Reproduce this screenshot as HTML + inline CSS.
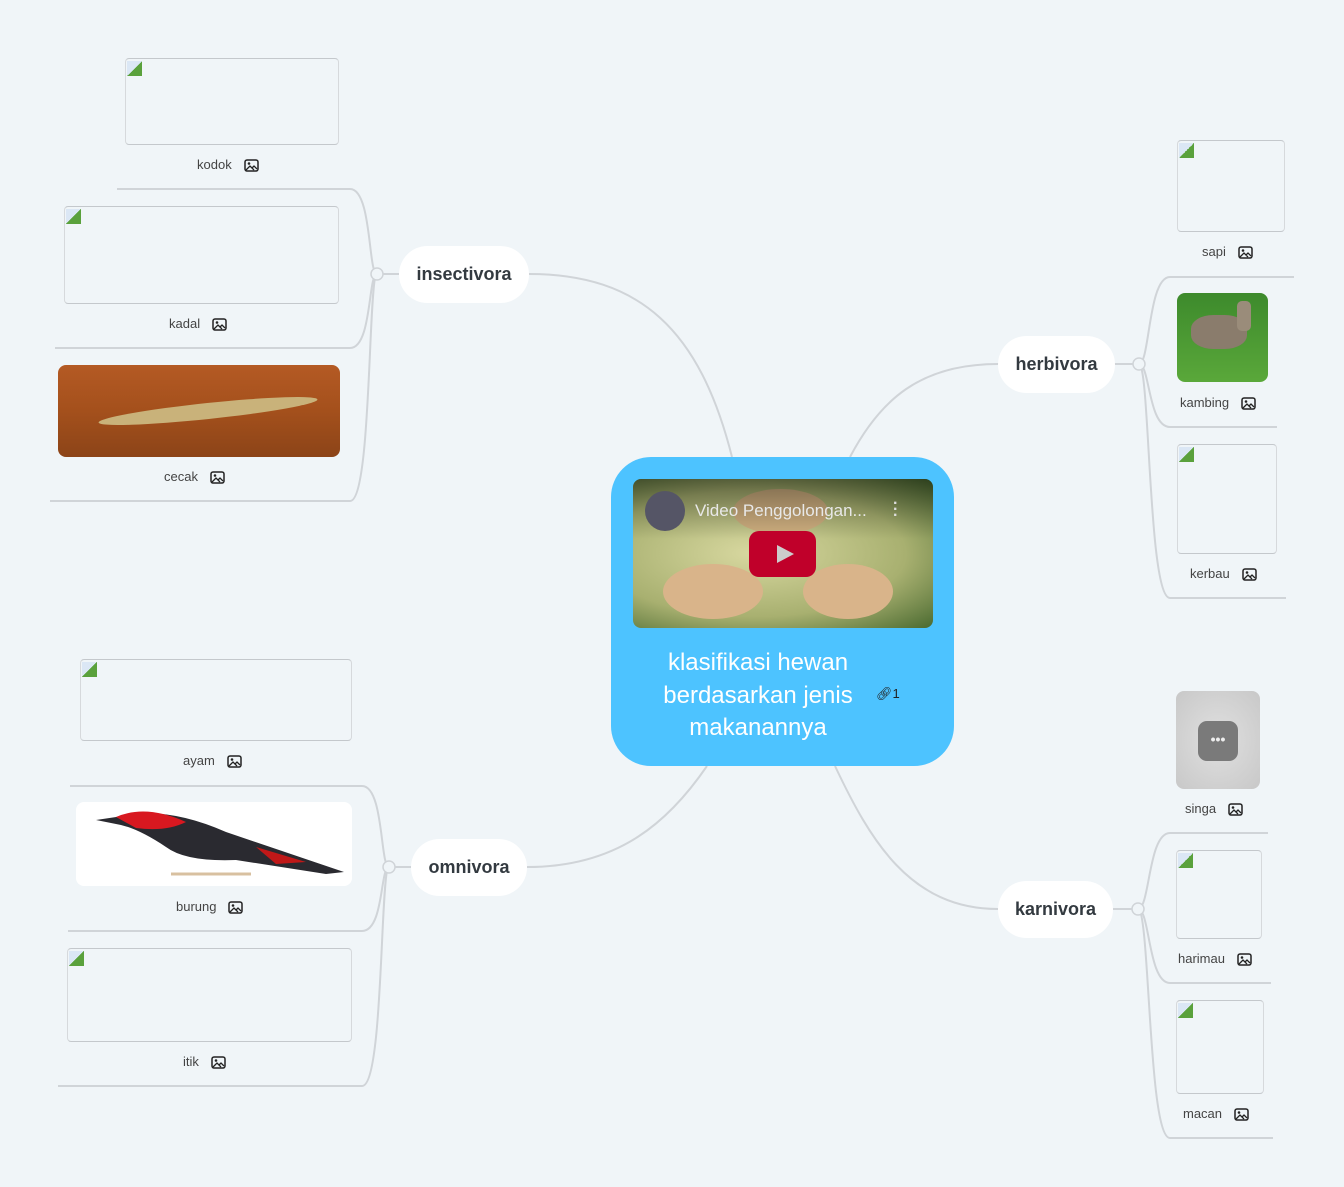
<!DOCTYPE html>
<html><head><meta charset="utf-8"><style>
body{margin:0;width:1344px;height:1187px;background:#f0f5f8;position:relative;overflow:hidden;font-family:"Liberation Sans",sans-serif}
.a{position:absolute}
.node{position:absolute;background:#fff;border-radius:29px;height:57px;line-height:57px;text-align:center;font-weight:bold;font-size:18px;color:#333a40}
.box{position:absolute;border-top:1px solid #c4c8cc;border-bottom:1px solid #c4c8cc;border-left:1px solid #d6d9dc;border-right:1px solid #d6d9dc;border-radius:4px;box-sizing:border-box}
.box:before{content:"";position:absolute;left:1px;top:2px;width:15px;height:15px;background:linear-gradient(135deg,#dbe7f5 50%,#5aa13c 50%)}
.lab{position:absolute;font-size:13px;color:#444;white-space:nowrap}
.lab svg{vertical-align:-3px;margin-left:12px}
</style></head><body>
<svg class="a" style="left:0;top:0" width="1344" height="1187">
<g fill="none" stroke="#d0d4d8" stroke-width="2">
<path d="M529 274 C640 274 700 330 732 457"/>
<path d="M998 364 C920 364 880 400 850 457"/>
<path d="M527 867 C620 867 670 820 707 766"/>
<path d="M998 909 C910 909 870 840 835 766"/>
<path d="M377 274 H399"/><path d="M1139 364 H1117 M998 364 H1117"/>
<path d="M389 867 H411"/><path d="M1138 909 H1113"/>
<path d="M117 189 H350 C372 189 368 274 377 274"/>
<path d="M55 348 H350 C372 348 368 274 377 274"/>
<path d="M50 501 H350 C372 501 368 274 377 274"/>
<path d="M1294 277 H1170 C1148 277 1150 364 1139 364"/>
<path d="M1277 427 H1170 C1148 427 1150 364 1139 364"/>
<path d="M1286 598 H1170 C1148 598 1150 364 1139 364"/>
<path d="M70 786 H362 C384 786 380 867 389 867"/>
<path d="M68 931 H362 C384 931 380 867 389 867"/>
<path d="M58 1086 H362 C384 1086 380 867 389 867"/>
<path d="M1268 833 H1170 C1148 833 1150 909 1138 909"/>
<path d="M1271 983 H1170 C1148 983 1150 909 1138 909"/>
<path d="M1273 1138 H1170 C1148 1138 1150 909 1138 909"/>
</g>
<g fill="#f0f5f8" stroke="#d0d4d8" stroke-width="1.5">
<circle cx="377" cy="274" r="6"/><circle cx="1139" cy="364" r="6"/><circle cx="389" cy="867" r="6"/><circle cx="1138" cy="909" r="6"/>
</g>
</svg>

<div class="node" style="left:399px;top:246px;width:130px">insectivora</div>
<div class="node" style="left:998px;top:336px;width:117px">herbivora</div>
<div class="node" style="left:411px;top:839px;width:116px">omnivora</div>
<div class="node" style="left:998px;top:881px;width:115px">karnivora</div>

<!-- center -->
<div class="a" style="left:611px;top:457px;width:343px;height:309px;background:#4dc3ff;border-radius:40px"></div>
<div class="a" style="left:633px;top:479px;width:300px;height:149px;border-radius:8px;overflow:hidden;background:radial-gradient(ellipse at 40% 50%,#d8d8a0,#a8b070 60%,#4a6a30)">
<div class="a" style="left:30px;top:85px;width:100px;height:55px;border-radius:50%;background:#d9b48a"></div>
<div class="a" style="left:170px;top:85px;width:90px;height:55px;border-radius:50%;background:#d9b48a"></div>
<div class="a" style="left:100px;top:10px;width:95px;height:45px;border-radius:50%;background:#d0b080"></div>
<div class="a" style="left:0;top:0;width:300px;height:60px;background:linear-gradient(#0006,#0000)"></div>
<div class="a" style="left:12px;top:12px;width:40px;height:40px;border-radius:50%;background:#556"></div>
<div class="a" style="left:62px;top:22px;color:#e8e8e8;font-size:17px">Video Penggolongan...</div>
<div class="a" style="left:260px;top:22px;color:#ddd;font-size:16px;font-weight:bold;line-height:6px">·<br>·<br>·</div>
<div class="a" style="left:116px;top:52px;width:67px;height:46px;border-radius:10px;background:#c0002a"></div>
<div class="a" style="left:144px;top:66px;width:0;height:0;border-left:17px solid #ccc;border-top:9px solid transparent;border-bottom:9px solid transparent"></div>
</div>
<div class="a" style="left:640px;top:647px;width:236px;text-align:center;color:#fff;font-size:24px;line-height:32.5px">klasifikasi hewan berdasarkan jenis makanannya</div>
<div class="a" style="left:876px;top:686px;font-size:13px;color:#222">🔗︎1</div>

<!-- insectivora leaves -->
<div class="box" style="left:125px;top:58px;width:214px;height:87px"></div>
<div class="lab" style="left:197px;top:157px">kodok<svg width="15" height="13"><rect x="1" y="1" width="13" height="11" rx="2" fill="none" stroke="#222" stroke-width="1.5"/><path d="M2 11 L6 7 L10 11 M8 9 L10 7 L13 10" fill="none" stroke="#222" stroke-width="1.3"/><circle cx="5" cy="4.5" r="1.3" fill="#222"/></svg></div>
<div class="box" style="left:64px;top:206px;width:275px;height:98px"></div>
<div class="lab" style="left:169px;top:316px">kadal<svg width="15" height="13"><rect x="1" y="1" width="13" height="11" rx="2" fill="none" stroke="#222" stroke-width="1.5"/><path d="M2 11 L6 7 L10 11 M8 9 L10 7 L13 10" fill="none" stroke="#222" stroke-width="1.3"/><circle cx="5" cy="4.5" r="1.3" fill="#222"/></svg></div>
<div class="a" style="left:58px;top:365px;width:282px;height:92px;border-radius:8px;background:linear-gradient(#b45a24,#a4501c 50%,#8c4418);overflow:hidden"><div class="a" style="left:40px;top:38px;width:220px;height:16px;border-radius:50%;background:#c9b27a;transform:rotate(-6deg)"></div></div>
<div class="lab" style="left:164px;top:469px">cecak<svg width="15" height="13"><rect x="1" y="1" width="13" height="11" rx="2" fill="none" stroke="#222" stroke-width="1.5"/><path d="M2 11 L6 7 L10 11 M8 9 L10 7 L13 10" fill="none" stroke="#222" stroke-width="1.3"/><circle cx="5" cy="4.5" r="1.3" fill="#222"/></svg></div>

<!-- herbivora leaves -->
<div class="box" style="left:1177px;top:140px;width:108px;height:92px"></div>
<div class="lab" style="left:1202px;top:244px">sapi<svg width="15" height="13"><rect x="1" y="1" width="13" height="11" rx="2" fill="none" stroke="#222" stroke-width="1.5"/><path d="M2 11 L6 7 L10 11 M8 9 L10 7 L13 10" fill="none" stroke="#222" stroke-width="1.3"/><circle cx="5" cy="4.5" r="1.3" fill="#222"/></svg></div>
<div class="a" style="left:1177px;top:293px;width:91px;height:89px;border-radius:8px;background:linear-gradient(#3d8a2c,#5aa83a);overflow:hidden"><div class="a" style="left:14px;top:22px;width:56px;height:34px;border-radius:40%;background:#8a7c6c"></div><div class="a" style="left:60px;top:8px;width:14px;height:30px;background:#9a8c7a;border-radius:5px"></div></div>
<div class="lab" style="left:1180px;top:395px">kambing<svg width="15" height="13"><rect x="1" y="1" width="13" height="11" rx="2" fill="none" stroke="#222" stroke-width="1.5"/><path d="M2 11 L6 7 L10 11 M8 9 L10 7 L13 10" fill="none" stroke="#222" stroke-width="1.3"/><circle cx="5" cy="4.5" r="1.3" fill="#222"/></svg></div>
<div class="box" style="left:1177px;top:444px;width:100px;height:110px"></div>
<div class="lab" style="left:1190px;top:566px">kerbau<svg width="15" height="13"><rect x="1" y="1" width="13" height="11" rx="2" fill="none" stroke="#222" stroke-width="1.5"/><path d="M2 11 L6 7 L10 11 M8 9 L10 7 L13 10" fill="none" stroke="#222" stroke-width="1.3"/><circle cx="5" cy="4.5" r="1.3" fill="#222"/></svg></div>

<!-- omnivora leaves -->
<div class="box" style="left:80px;top:659px;width:272px;height:82px"></div>
<div class="lab" style="left:183px;top:753px">ayam<svg width="15" height="13"><rect x="1" y="1" width="13" height="11" rx="2" fill="none" stroke="#222" stroke-width="1.5"/><path d="M2 11 L6 7 L10 11 M8 9 L10 7 L13 10" fill="none" stroke="#222" stroke-width="1.3"/><circle cx="5" cy="4.5" r="1.3" fill="#222"/></svg></div>
<div class="a" style="left:76px;top:802px;width:276px;height:84px;border-radius:8px;background:#fff;overflow:hidden">
<svg width="276" height="84"><path d="M20 18 L60 12 Q100 8 150 30 L268 70 L250 72 L160 58 Q110 60 90 45 Q60 25 40 22 Z" fill="#2a2a30"/><path d="M40 15 Q70 2 110 20 Q90 30 60 26 Z" fill="#d81820"/><path d="M180 45 L230 60 L200 62 Z" fill="#c01818"/><path d="M95 72 H175" stroke="#d8c0a0" stroke-width="3"/></svg></div>
<div class="lab" style="left:176px;top:899px">burung<svg width="15" height="13"><rect x="1" y="1" width="13" height="11" rx="2" fill="none" stroke="#222" stroke-width="1.5"/><path d="M2 11 L6 7 L10 11 M8 9 L10 7 L13 10" fill="none" stroke="#222" stroke-width="1.3"/><circle cx="5" cy="4.5" r="1.3" fill="#222"/></svg></div>
<div class="box" style="left:67px;top:948px;width:285px;height:94px"></div>
<div class="lab" style="left:183px;top:1054px">itik<svg width="15" height="13"><rect x="1" y="1" width="13" height="11" rx="2" fill="none" stroke="#222" stroke-width="1.5"/><path d="M2 11 L6 7 L10 11 M8 9 L10 7 L13 10" fill="none" stroke="#222" stroke-width="1.3"/><circle cx="5" cy="4.5" r="1.3" fill="#222"/></svg></div>

<!-- karnivora leaves -->
<div class="a" style="left:1176px;top:691px;width:84px;height:98px;border-radius:8px;background:radial-gradient(#e0e0e0,#c8c8c8)"><div class="a" style="left:22px;top:30px;width:40px;height:40px;border-radius:9px;background:#7a7a7a;color:#eee;text-align:center;line-height:36px;font-weight:bold;font-size:14px">•••</div></div>
<div class="lab" style="left:1185px;top:801px">singa<svg width="15" height="13"><rect x="1" y="1" width="13" height="11" rx="2" fill="none" stroke="#222" stroke-width="1.5"/><path d="M2 11 L6 7 L10 11 M8 9 L10 7 L13 10" fill="none" stroke="#222" stroke-width="1.3"/><circle cx="5" cy="4.5" r="1.3" fill="#222"/></svg></div>
<div class="box" style="left:1176px;top:850px;width:86px;height:89px"></div>
<div class="lab" style="left:1178px;top:951px">harimau<svg width="15" height="13"><rect x="1" y="1" width="13" height="11" rx="2" fill="none" stroke="#222" stroke-width="1.5"/><path d="M2 11 L6 7 L10 11 M8 9 L10 7 L13 10" fill="none" stroke="#222" stroke-width="1.3"/><circle cx="5" cy="4.5" r="1.3" fill="#222"/></svg></div>
<div class="box" style="left:1176px;top:1000px;width:88px;height:94px"></div>
<div class="lab" style="left:1183px;top:1106px">macan<svg width="15" height="13"><rect x="1" y="1" width="13" height="11" rx="2" fill="none" stroke="#222" stroke-width="1.5"/><path d="M2 11 L6 7 L10 11 M8 9 L10 7 L13 10" fill="none" stroke="#222" stroke-width="1.3"/><circle cx="5" cy="4.5" r="1.3" fill="#222"/></svg></div>
</body></html>
